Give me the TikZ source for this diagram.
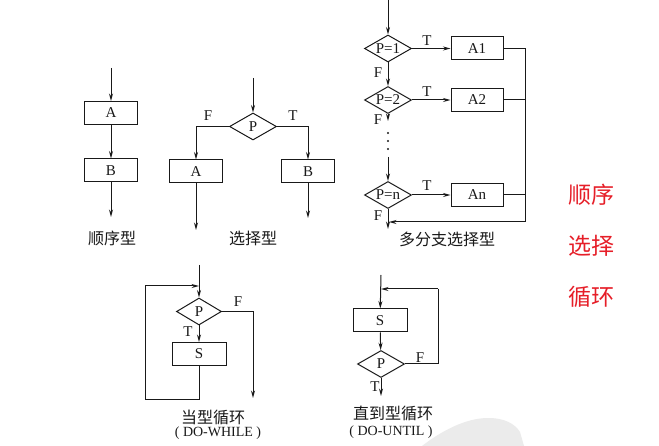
\documentclass[tikz,border=0pt]{standalone}
\usepackage{fontspec}
\setmainfont{Liberation Serif}
\newfontfamily\cjk{Noto Sans CJK SC}
\usetikzlibrary{shapes.geometric,arrows.meta}
\definecolor{labelred}{RGB}{230,30,40}
\definecolor{ink}{RGB}{25,25,25}
\tikzset{
  flow/.style={line width=1pt,draw=ink},
  arr/.style={flow,-{Stealth[length=7.5pt,width=4pt]}},
  box/.style={draw=ink,line width=1pt,minimum width=53pt,minimum height=23pt,inner sep=0pt,
              font=\fontsize{15}{15}\selectfont},
  dia/.style={draw=ink,diamond,line width=1pt,minimum width=47pt,minimum height=27pt,
              inner xsep=-6pt,inner ysep=-3pt,shape aspect=1.74,font=\fontsize{15}{15}\selectfont},
  tf/.style={inner sep=0pt,font=\fontsize{15}{15}\selectfont},
  caption/.style={inner sep=0pt,font=\cjk\fontsize{16}{16}\selectfont},
  captionen/.style={inner sep=0pt,font=\fontsize{14}{14}\selectfont},
  sidelabel/.style={inner sep=0pt,text=labelred,font=\cjk\fontsize{23}{23}\selectfont},
}
\begin{document}
\begin{tikzpicture}[x=1pt,y=-1pt,text=ink]
\useasboundingbox (0,0) rectangle (659,446);
\fill[white] (0,0) rectangle (659,446);
% pale smudge at the lower edge
\fill[black!8] (422,446) .. controls (440,432) and (465,418) .. (488,418)
  .. controls (505,418) and (515,424) .. (520,432) -- (524,446) -- cycle;

% ---- sequence ----
\coordinate (q0) at (111,68);
\node[box] (qA) at (111,113) {A};
\node[box] (qB) at (111,170.5) {B};
\coordinate (q1) at (111,217);
\draw[arr] (q0) -- (qA);
\draw[arr] (qA) -- (qB);
\draw[arr] (qB) -- (q1);
\node[caption] (qcap) at (112,238) {顺序型};

% ---- selection ----
\coordinate (c0) at (253,78);
\node[dia] (cP) at (253,126.5) {P};
\node[box] (cA) at (196,171.5) {A};
\node[box] (cB) at (308,171.5) {B};
\coordinate (cA1) at (196,230);
\coordinate (cB1) at (308,218);
\draw[arr] (c0) -- (cP);
\draw[arr] (cP.west) -| (cA.north);
\draw[arr] (cP.east) -| (cB.north);
\draw[arr] (cA) -- (cA1);
\draw[arr] (cB) -- (cB1);
\node[tf] (cF) at (208,116) {F};
\node[tf] (cT) at (293,116) {T};
\node[caption] (ccap) at (253,238) {选择型};

% ---- multi-branch selection ----
\coordinate (m0) at (388,0);
\node[dia] (m1) at (388,48.5) {P=1};
\node[box,minimum width=52pt] (a1) at (477,48.5) {A1};
\node[dia] (m2) at (388,100) {P=2};
\node[box,minimum width=52pt] (a2) at (477,100) {A2};
\node[dia] (mn) at (388,195) {P=n};
\node[box,minimum width=52pt] (an) at (477,195) {An};
\coordinate (m2b) at (388,121);
\coordinate (mdot) at (388,157);
\coordinate (mbot) at (388,229);
\coordinate (rtop) at (525,48.5);
\coordinate (rbot) at (525,222);
\coordinate (mret) at (389,222);
\draw[arr] (m0) -- (m1);
\draw[arr] (m1) -- (m2);
\draw[arr] (m2) -- (m2b);
\foreach \yy in {133,141,149} \fill[ink] (388,\yy) circle (1.2pt);
\draw[arr] (mdot) -- (mn);
\draw[arr] (mn) -- (mbot);
\draw[arr] (m1) -- (a1);
\draw[arr] (m2) -- (a2);
\draw[arr] (mn) -- (an);
\draw[flow] (a1.east) -- (rtop) -- (rbot);
\draw[flow] (a2.east) -- (525,100);
\draw[flow] (an.east) -- (525,195);
\draw[arr] (rbot) -- (mret);
\node[tf] (mT1) at (427,41) {T};
\node[tf] (mT2) at (427,92) {T};
\node[tf] (mT3) at (427,186) {T};
\node[tf] (mF1) at (378,73) {F};
\node[tf] (mF2) at (378,120) {F};
\node[tf] (mF3) at (378,216) {F};
\node[caption] (mcap) at (447,239) {多分支选择型};

% ---- DO-WHILE ----
\coordinate (w0) at (199,265);
\coordinate (wj) at (199,286);
\node[dia,minimum width=45pt] (wP) at (199,311.5) {P};
\node[box,minimum width=54pt] (wS) at (199,354) {S};
\coordinate (wb) at (199,400);
\coordinate (wl) at (145,400);
\coordinate (wt) at (145,286);
\coordinate (wr) at (253,311.5);
\coordinate (wend) at (253,398);
\draw[arr] (w0) -- (wP);
\draw[arr] (wP) -- (wS);
\draw[flow] (wS) -- (wb) -- (wl) -- (wt);
\draw[arr] (wt) -- (wj);
\draw[flow] (wP.east) -- (wr);
\draw[arr] (wr) -- (wend);
\node[tf] (wF) at (238,302) {F};
\node[tf] (wT) at (188,332) {T};
\node[caption] (wcap) at (213,417) {当型循环};
\node[captionen] (wen) at (218,433) {( DO-WHILE )};

% ---- DO-UNTIL ----
\coordinate (u0) at (381,275);
\coordinate (uj) at (381,289);
\node[box,minimum width=54pt] (uS) at (380,320.5) {S};
\node[dia] (uP) at (381,364) {P};
\coordinate (ur) at (438,364);
\coordinate (ut) at (438,289);
\coordinate (uend) at (381,396);
\draw[arr] (u0) -- (uS);
\draw[arr] (uS) -- (uP);
\draw[arr] (uP) -- (uend);
\draw[flow] (uP.east) -- (ur) -- (ut);
\draw[arr] (ut) -- (uj);
\node[tf] (uF) at (420,358) {F};
\node[tf] (uT) at (375,387) {T};
\node[caption] (ucap) at (393,413) {直到型循环};
\node[captionen] (uen) at (391,432) {( DO-UNTIL )};

% ---- red captions ----
\node[sidelabel] (r1) at (591,195) {顺序};
\node[sidelabel] (r2) at (591,246) {选择};
\node[sidelabel] (r3) at (591,297) {循环};
\end{tikzpicture}
\end{document}
